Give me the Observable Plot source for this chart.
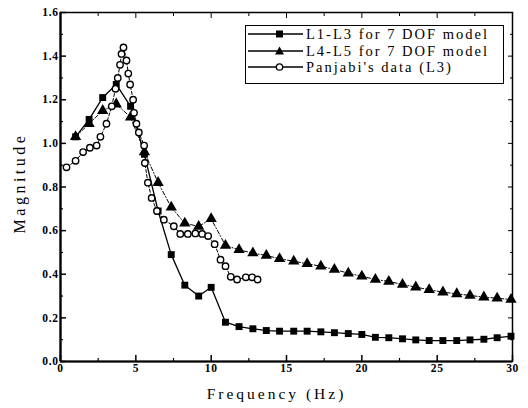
<!DOCTYPE html>
<html><head><meta charset="utf-8">
<script src="https://cdn.jsdelivr.net/npm/d3@7"></script>
<script src="https://cdn.jsdelivr.net/npm/@observablehq/plot@0.6"></script>
<style>
body{margin:0;background:#fff}
#wrap{position:relative;width:528px;height:408px}
#wrap svg text{font-family:"Liberation Serif","Times New Roman","DejaVu Serif",serif}
.legend{position:absolute;left:245px;top:25px;width:259px;height:59px;border:1.5px solid #000;background:#fff;box-sizing:border-box;font-family:"Liberation Serif","Times New Roman","DejaVu Serif",serif;font-size:14.5px;letter-spacing:2px;color:#000}
.row{position:absolute;left:0;height:16px;display:flex;align-items:center}
.row svg{display:block;margin-left:1px}
.row span{margin-left:2px;white-space:nowrap}
</style></head><body><div id="wrap"></div>
<script>
const modelFreq = [1.0,1.9,2.8,3.7,4.65,5.57,6.48,7.35,8.25,9.17,10.0,10.95,11.85,12.77,13.66,14.54,15.48,16.37,17.28,18.18,19.1,20.0,20.9,21.79,22.7,23.58,24.47,25.38,26.3,27.18,28.1,28.98,29.9];
const l1l3Mag = [1.03,1.11,1.21,1.27,1.17,0.95,0.69,0.49,0.35,0.30,0.34,0.18,0.16,0.15,0.142,0.139,0.139,0.139,0.136,0.132,0.128,0.124,0.111,0.109,0.104,0.099,0.096,0.096,0.096,0.099,0.102,0.109,0.116];
const l4l5Mag = [1.03,1.09,1.15,1.18,1.12,0.96,0.82,0.707,0.634,0.619,0.654,0.532,0.512,0.497,0.486,0.471,0.46,0.448,0.437,0.422,0.405,0.391,0.376,0.367,0.353,0.341,0.329,0.318,0.31,0.303,0.295,0.29,0.284];
const panjabiFreq = [0.4,1.0,1.5,1.95,2.4,2.65,3.05,3.4,3.65,3.8,3.95,4.05,4.18,4.38,4.5,4.62,4.82,4.88,5.04,5.2,5.55,5.6,5.8,6.05,6.4,6.86,7.52,7.95,8.45,8.95,9.4,9.8,10.23,10.62,10.95,11.3,11.72,12.3,12.72,13.08];
const panjabiMag = [0.89,0.92,0.96,0.98,0.99,1.03,1.09,1.17,1.25,1.30,1.36,1.41,1.44,1.38,1.32,1.27,1.20,1.14,1.09,1.05,0.99,0.91,0.82,0.75,0.69,0.65,0.62,0.585,0.585,0.587,0.585,0.575,0.538,0.467,0.437,0.388,0.376,0.386,0.386,0.376];
const seriesNames = ["L1-L3 for 7 DOF model","L4-L5 for 7 DOF model","Panjabi's data (L3)"];
const xTicks = [0,5,10,15,20,25,30];
const xMinor = [2.5,7.5,12.5,17.5,22.5,27.5];
const yTicks = [0,0.2,0.4,0.6,0.8,1.0,1.2,1.4,1.6];
const yMinor = [0.1,0.3,0.5,0.7,0.9,1.1,1.3,1.5];
const xTitle = "Frequency (Hz)";
const yTitle = "Magnitude";

const l13 = modelFreq.map((f,i)=>({f, m:l1l3Mag[i]}));
const l45 = modelFreq.map((f,i)=>({f, m:l4l5Mag[i]}));
const pj = panjabiFreq.map((f,i)=>({f, m:panjabiMag[i]}));
const blank = () => "";

const chart = Plot.plot({
  width:528, height:408, marginLeft:60, marginRight:16, marginTop:12, marginBottom:47,
  style:{fontFamily:"Liberation Serif", fontSize:"11.5px", background:"#fff", color:"#000"},
  x:{domain:[0,30]}, y:{domain:[0,1.6]},
  marks:[
    Plot.frame({strokeWidth:1.5}),
    Plot.ruleX([0],{strokeWidth:2.2}),
    Plot.ruleY([0],{strokeWidth:2.2}),
    Plot.axisX(xTicks,{tickSize:-6, tickPadding:8, tickFormat:d=>d, label:null, strokeWidth:1.5, fontWeight:"bold"}),
    Plot.axisX(xMinor,{tickSize:-3, tickFormat:blank, label:null, strokeWidth:1.2}),
    Plot.axisX(xTicks,{anchor:"top", tickSize:-5, tickFormat:blank, label:null}),
    Plot.axisX(xMinor,{anchor:"top", tickSize:-3, tickFormat:blank, label:null}),
    Plot.axisY(yTicks,{tickSize:-6, tickPadding:8, tickFormat:d3.format(".1f"), label:null, strokeWidth:1.5, fontWeight:"bold"}),
    Plot.axisY(yMinor,{tickSize:-3, tickFormat:blank, label:null, strokeWidth:1.2}),
    Plot.axisY(yTicks,{anchor:"right", tickSize:-5, tickFormat:blank, label:null}),
    Plot.axisY(yMinor,{anchor:"right", tickSize:-3, tickFormat:blank, label:null}),
    Plot.text([xTitle],{frameAnchor:"bottom", dy:37, fontSize:15.5, dx:-10}),
    Plot.text([yTitle],{frameAnchor:"left", textAnchor:"middle", rotate:-90, dx:-41, dy:-4, fontSize:16}),
    Plot.line(l45,{x:"f", y:"m", stroke:"#000", strokeWidth:1, strokeDasharray:"4,2,1,2"}),
    Plot.line(pj,{x:"f", y:"m", stroke:"#000", strokeWidth:1, strokeDasharray:"3,2"}),
    Plot.line(l13,{x:"f", y:"m", stroke:"#000", strokeWidth:1.3}),
    Plot.dot(l45,{x:"f", y:"m", symbol:"triangle", r:4.2, fill:"#000"}),
    Plot.dot(l13,{x:"f", y:"m", symbol:"square", r:3.9, fill:"#000"}),
    Plot.dot(pj,{x:"f", y:"m", symbol:"circle", r:3.2, fill:"#fff", stroke:"#000", strokeWidth:1.4})
  ]
});
d3.select(chart).selectAll("text").filter(function(){return this.textContent===xTitle;}).style("letter-spacing","3px");
d3.select(chart).selectAll("text").filter(function(){return this.textContent===yTitle;}).style("letter-spacing","3.5px");
d3.select(chart).selectAll("text").filter(function(){return /^[0-9.]+$/.test(this.textContent);}).style("letter-spacing","0.6px");
const wrap = document.getElementById("wrap");
wrap.appendChild(chart);

const legend = document.createElement("div");
legend.className = "legend";
const markers = [
  '<rect x="29" y="4.5" width="7" height="7" fill="#000"/>',
  '<path d="M32.5,3.5 L37,11.5 L28,11.5 Z" fill="#000"/>',
  '<circle cx="32.5" cy="8" r="3.2" fill="#fff" stroke="#000" stroke-width="1.3"/>'
];
const tops = [0, 17, 33];
seriesNames.forEach((name,i)=>{
  const row = document.createElement("div");
  row.className = "row";
  row.style.top = tops[i] + "px";
  row.innerHTML = `<svg width="57" height="16"><line x1="1" y1="8" x2="56" y2="8" stroke="#000" stroke-width="1.3"/>${markers[i]}</svg><span>${name}</span>`;
  legend.appendChild(row);
});
wrap.appendChild(legend);
</script></body></html>
